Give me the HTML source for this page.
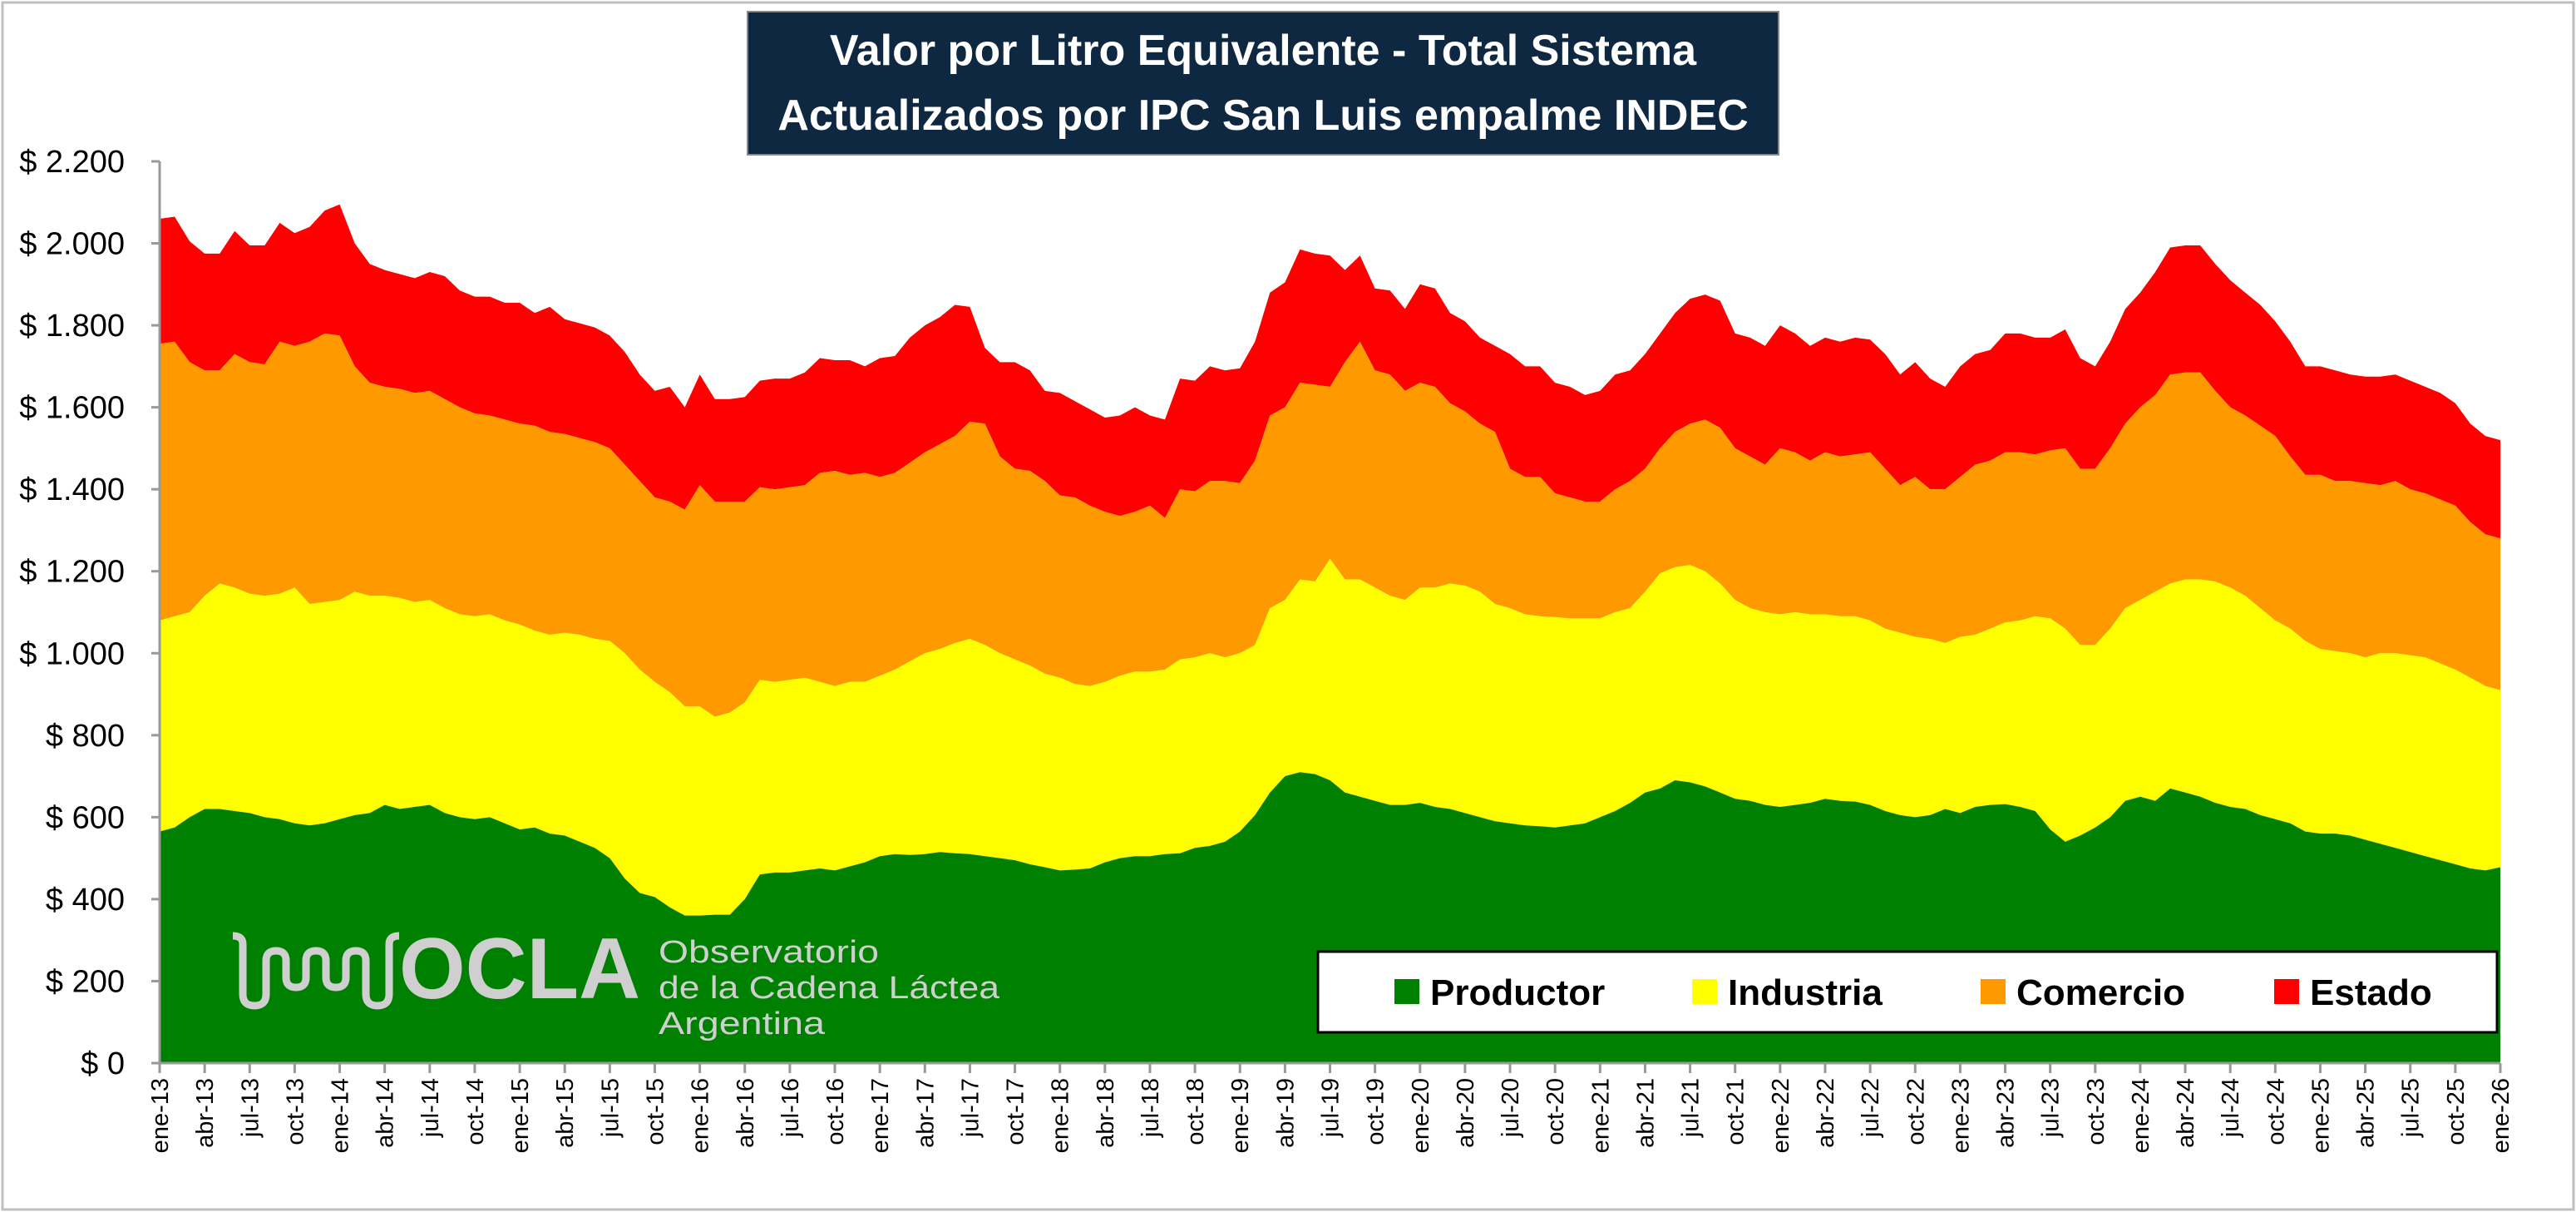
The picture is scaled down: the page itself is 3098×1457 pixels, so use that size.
<!DOCTYPE html>
<html><head><meta charset="utf-8">
<style>
html,body{margin:0;padding:0;background:#fff;}
svg{display:block;font-family:"Liberation Sans",sans-serif;}
</style></head>
<body>
<svg id="chart" width="3098" height="1457" viewBox="0 0 3098 1457" xmlns="http://www.w3.org/2000/svg">
<rect x="3" y="3" width="3092" height="1451" fill="#fff" stroke="#bfbfbf" stroke-width="3"/>
<g id="plot"></g>
<g id="axes"></g>
<g fill="#cfcfcf">
  <path d="M280 1125 q12 0 12 10 v60 q0 14 14 14 q14 0 14 -14 v-40 q0 -12 12 -12 q12 0 12 12 v20 q0 12 12 12 q12 0 12 -12 v-20 q0 -12 12 -12 q12 0 12 12 v20 q0 12 12 12 q12 0 12 -12 v-20 q0 -12 12 -12 q12 0 12 12 v40 q0 14 14 14 q14 0 14 -14 v-60 q0 -10 12 -10" fill="none" stroke="#cfcfcf" stroke-width="9"/>
  <text x="480" y="1200" font-size="104" font-weight="bold" fill="#cfcfcf" textLength="290" lengthAdjust="spacingAndGlyphs">OCLA</text>
  <text x="792" y="1157" font-size="38" fill="#cfcfcf" textLength="265" lengthAdjust="spacingAndGlyphs">Observatorio</text>
  <text x="792" y="1200" font-size="38" fill="#cfcfcf" textLength="410" lengthAdjust="spacingAndGlyphs">de la Cadena Láctea</text>
  <text x="792" y="1243" font-size="38" fill="#cfcfcf" textLength="200" lengthAdjust="spacingAndGlyphs">Argentina</text>
</g>
<g>
  <rect x="1585" y="1144" width="1418" height="97" fill="#fff" stroke="#000" stroke-width="3"/>
  <g><rect x="1677" y="1177" width="30" height="30" fill="#008000"/><text x="1720" y="1208" font-size="44" font-weight="bold">Productor</text></g>
  <g><rect x="2035" y="1177" width="30" height="30" fill="#ffff00"/><text x="2078" y="1208" font-size="44" font-weight="bold">Industria</text></g>
  <g><rect x="2382" y="1177" width="30" height="30" fill="#ff9900"/><text x="2425" y="1208" font-size="44" font-weight="bold">Comercio</text></g>
  <g><rect x="2735" y="1177" width="30" height="30" fill="#ff0000"/><text x="2778" y="1208" font-size="44" font-weight="bold">Estado</text></g>
</g>
<g>
  <rect x="899" y="14" width="1240" height="172" fill="#0e2841" stroke="#888" stroke-width="2"/>
  <text x="1519" y="78" text-anchor="middle" font-size="52" font-weight="bold" fill="#fff">Valor por Litro Equivalente - Total Sistema</text>
  <text x="1519" y="156" text-anchor="middle" font-size="52" font-weight="bold" fill="#fff">Actualizados por IPC San Luis empalme INDEC</text>
</g>
</svg>
<script>
const months = ["ene","feb","mar","abr","may","jun","jul","ago","sep","oct","nov","dic"];
const categories = [];
for (let y = 13; y <= 25; y++) for (const m of months) categories.push(m + "-" + y);
categories.push("ene-26");
const yTicks = [0,200,400,600,800,1000,1200,1400,1600,1800,2000,2200];
const yTickLabels = ["$ 0","$ 200","$ 400","$ 600","$ 800","$ 1.000","$ 1.200","$ 1.400","$ 1.600","$ 1.800","$ 2.000","$ 2.200"];
// stacked level (cumulative top) of each series
const topProductor = [
565,575,600,620,620,615,610,600,595,585,580,585,
595,605,610,630,620,625,630,610,600,595,600,585,
570,575,560,555,540,525,500,450,415,405,380,360,
360,362,362,400,460,465,465,470,475,470,480,490,
505,510,508,510,515,512,510,505,500,495,485,478,
470,472,475,490,500,505,505,510,512,525,530,540,
565,605,660,700,710,705,690,660,650,640,630,630,
635,625,620,610,600,590,585,580,578,575,580,585,
600,615,635,660,670,690,685,675,660,645,640,630,
625,630,635,645,640,638,630,615,605,600,605,620,
610,625,630,632,625,615,570,540,555,575,600,640,
650,640,670,660,650,635,625,620,605,595,585,565,
560,560,555,545,535,525,515,505,495,485,475,470,
478];
const topIndustria = [
1080,1090,1100,1140,1170,1160,1145,1140,1145,1160,1120,1125,
1130,1150,1140,1140,1135,1125,1130,1110,1095,1090,1095,1080,
1070,1055,1045,1050,1045,1035,1030,1000,960,930,905,870,
870,845,855,880,935,930,935,940,930,920,930,930,
945,960,980,1000,1010,1025,1035,1020,1000,985,970,950,
940,925,920,930,945,955,955,960,985,990,1000,990,
1000,1020,1110,1130,1180,1175,1230,1180,1180,1160,1140,1130,
1160,1160,1170,1165,1150,1120,1110,1095,1090,1088,1085,1085,
1085,1100,1110,1150,1195,1210,1215,1200,1170,1130,1110,1100,
1095,1100,1095,1095,1090,1090,1080,1060,1050,1040,1035,1025,
1040,1045,1060,1075,1080,1090,1085,1060,1020,1020,1060,1110,
1130,1150,1170,1180,1180,1175,1160,1140,1110,1080,1060,1030,
1010,1005,1000,990,1000,1000,995,990,975,960,940,920,
910];
const topComercio = [
1755,1760,1710,1690,1690,1730,1710,1705,1760,1750,1760,1780,
1775,1700,1660,1650,1645,1635,1640,1620,1600,1585,1580,1570,
1560,1555,1540,1535,1525,1515,1500,1460,1420,1380,1370,1350,
1410,1370,1370,1370,1405,1400,1405,1410,1440,1445,1435,1440,
1430,1440,1465,1490,1510,1530,1565,1560,1480,1450,1445,1420,
1385,1380,1360,1345,1335,1345,1360,1330,1400,1395,1420,1420,
1415,1470,1580,1600,1660,1655,1650,1710,1760,1690,1680,1640,
1660,1650,1610,1590,1560,1540,1450,1430,1430,1390,1380,1370,
1370,1400,1420,1450,1500,1540,1560,1570,1550,1500,1480,1460,
1500,1490,1470,1490,1480,1485,1490,1450,1410,1430,1400,1400,
1430,1460,1470,1490,1490,1485,1495,1500,1450,1450,1500,1560,
1600,1630,1680,1685,1685,1640,1600,1580,1555,1530,1480,1435,
1435,1420,1420,1415,1410,1420,1400,1390,1375,1360,1320,1290,
1280];
const topEstado = [
2060,2065,2005,1975,1975,2030,1995,1995,2050,2025,2040,2080,
2095,2000,1950,1935,1925,1915,1930,1920,1885,1870,1870,1855,
1855,1830,1845,1815,1805,1795,1775,1735,1680,1640,1650,1600,
1680,1620,1620,1625,1665,1670,1670,1685,1720,1715,1715,1700,
1720,1725,1770,1800,1820,1850,1845,1745,1710,1710,1690,1640,
1635,1615,1595,1575,1580,1600,1580,1570,1670,1665,1700,1690,
1695,1760,1880,1905,1985,1975,1970,1935,1970,1890,1885,1840,
1900,1890,1830,1810,1770,1750,1730,1700,1700,1660,1650,1630,
1640,1680,1690,1730,1780,1830,1865,1875,1860,1780,1770,1750,
1800,1780,1750,1770,1760,1770,1765,1730,1680,1710,1670,1650,
1700,1730,1740,1780,1780,1770,1770,1790,1720,1700,1760,1840,
1880,1930,1990,1995,1995,1950,1910,1880,1850,1810,1760,1700,
1700,1690,1680,1675,1675,1680,1665,1650,1635,1610,1560,1530,
1520];

const NS = "http://www.w3.org/2000/svg";
const X0 = 192, X1 = 3007, Y0 = 1278, Y1 = 194, VMAX = 2200;
const xPos = i => X0 + (X1 - X0) * i / (categories.length - 1);
const yPos = v => Y0 - (Y0 - Y1) * v / VMAX;
const plot = document.getElementById('plot');
const axes = document.getElementById('axes');

function areaPath(top, bottom) {
  let d = "";
  top.forEach((v, i) => { d += (i ? "L" : "M") + xPos(i).toFixed(1) + " " + yPos(v).toFixed(1) + " "; });
  for (let i = top.length - 1; i >= 0; i--) {
    const b = bottom ? bottom[i] : 0;
    d += "L" + xPos(i).toFixed(1) + " " + yPos(b).toFixed(1) + " ";
  }
  return d + "Z";
}
const layers = [
  [topEstado, topComercio, "#ff0000", "area-estado"],
  [topComercio, topIndustria, "#ff9900", "area-comercio"],
  [topIndustria, topProductor, "#ffff00", "area-industria"],
  [topProductor, null, "#008000", "area-productor"]
];
layers.forEach(([t, b, c, n]) => {
  const p = document.createElementNS(NS, "path");
  p.setAttribute("d", areaPath(t, b));
  p.setAttribute("fill", c);
  
  
  plot.appendChild(p);
});

const yAxis = document.createElementNS(NS, "line");
yAxis.setAttribute("x1", X0); yAxis.setAttribute("x2", X0);
yAxis.setAttribute("y1", Y1); yAxis.setAttribute("y2", Y0);
yAxis.setAttribute("stroke", "#999"); yAxis.setAttribute("stroke-width", "3");


axes.appendChild(yAxis);
const xAxis = document.createElementNS(NS, "line");
xAxis.setAttribute("x1", X0); xAxis.setAttribute("x2", X1);
xAxis.setAttribute("y1", Y0); xAxis.setAttribute("y2", Y0);
xAxis.setAttribute("stroke", "#999"); xAxis.setAttribute("stroke-width", "3");


axes.appendChild(xAxis);

yTicks.forEach((v, k) => {
  const tk = document.createElementNS(NS, "line");
  tk.setAttribute("x1", X0 - 10); tk.setAttribute("x2", X0);
  tk.setAttribute("y1", yPos(v)); tk.setAttribute("y2", yPos(v));
  tk.setAttribute("stroke", "#999"); tk.setAttribute("stroke-width", "3");
  
  
  axes.appendChild(tk);
  const t = document.createElementNS(NS, "text");
  t.setAttribute("x", 150); t.setAttribute("y", yPos(v) + 13);
  t.setAttribute("text-anchor", "end"); t.setAttribute("font-size", "38");
  t.textContent = yTickLabels[k];
  
  
  axes.appendChild(t);
});
categories.forEach((c, i) => {
  if (i % 3 !== 0) return;
  const x = xPos(i);
  const tk = document.createElementNS(NS, "line");
  tk.setAttribute("x1", x); tk.setAttribute("x2", x);
  tk.setAttribute("y1", Y0); tk.setAttribute("y2", Y0 + 12);
  tk.setAttribute("stroke", "#999"); tk.setAttribute("stroke-width", "3");
  
  
  axes.appendChild(tk);
  const t = document.createElementNS(NS, "text");
  t.setAttribute("transform", "translate(" + (x + 10) + "," + (Y0 + 18) + ") rotate(-90)");
  t.setAttribute("text-anchor", "end"); t.setAttribute("font-size", "29");
  t.textContent = c;
  
  
  axes.appendChild(t);
});
</script>
</body></html>
